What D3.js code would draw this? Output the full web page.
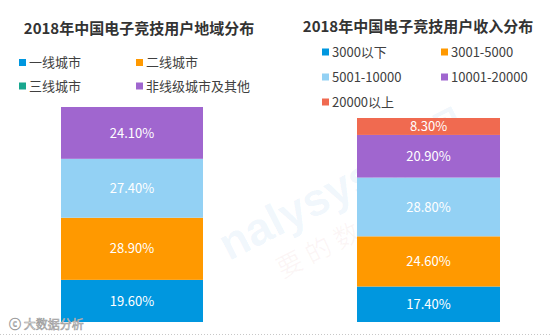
<!DOCTYPE html>
<html><head><meta charset="utf-8">
<script src="https://cdn.jsdelivr.net/npm/d3@7/dist/d3.min.js"></script>
<style>html,body{margin:0;padding:0;background:#fff;}svg{display:block;font-family:"Noto Sans CJK SC","Microsoft YaHei",sans-serif;}</style>
</head><body>
<svg id="c" width="551" height="336"></svg>
<script>
const regionTitle = "2018年中国电子竞技用户地域分布";
const regionCats = ["一线城市","二线城市","三线城市","非线级城市及其他"];
const regionVals = [19.6, 28.9, 0, 27.4, 24.1];
const regionBarKeys = ["一线城市","二线城市","light","非线级城市及其他"];
const regionBarVals = [19.6, 28.9, 27.4, 24.1];
const regionBarColors = ["#0097DF","#FF9900","#93D1F4","#A066CF"];
const regionLegendColors = ["#0097DF","#FF9900","#19A78F","#A066CF"];

const incomeTitle = "2018年中国电子竞技用户收入分布";
const incomeCats = ["3000以下","3001-5000","5001-10000","10001-20000","20000以上"];
const incomeVals = [17.4, 24.6, 28.8, 20.9, 8.3];
const incomeColors = ["#0097DF","#FF9900","#93D1F4","#A066CF","#F06A50"];

const svg = d3.select("#c");
const fmt = v => d3.format(".2f")(v) + "%";

// watermark
const wm = svg.append("g").attr("transform","translate(300,225) rotate(-27)");
wm.append("text").attr("x",-80).attr("y",0).attr("font-size",46).attr("font-weight","bold")
  .attr("fill","#2a8ad8").attr("fill-opacity",0.07).attr("font-family","Arial,sans-serif").text("nalysys 易观");
wm.append("text").attr("x",-40).attr("y",40).attr("font-size",26)
  .attr("fill","#c06060").attr("fill-opacity",0.06).attr("letter-spacing",6).text("要的数据分析");

function drawStack(vals, colors, x0, x1, yTop, yBot) {
  const y = d3.scaleLinear().domain([0, d3.sum(vals)]).range([yBot, yTop]);
  let acc = 0;
  const segs = vals.map((v,i) => { const s = {v, lo: acc, hi: acc + v, c: colors[i]}; acc += v; return s; });
  const g = svg.append("g");
  g.selectAll("rect").data(segs).join("rect")
    .attr("x", x0).attr("width", x1 - x0)
    .attr("y", d => y(d.hi)).attr("height", d => y(d.lo) - y(d.hi))
    .attr("fill", d => d.c);
  g.selectAll("text").data(segs).join("text")
    .attr("x", (x0 + x1) / 2).attr("y", d => (y(d.lo) + y(d.hi)) / 2)
    .attr("dy", "0.36em").attr("text-anchor", "middle")
    .attr("fill", "#fff").attr("font-size", 13)
    .text(d => fmt(d.v));
}

function legend(items, colors, positions) {
  const g = svg.append("g");
  items.forEach((t,i) => {
    const [x, yc] = positions[i];
    g.append("rect").attr("x", x).attr("y", yc - 3.5).attr("width", 7).attr("height", 7).attr("fill", colors[i]);
    g.append("text").attr("x", x + 10).attr("y", yc).attr("dy","0.36em")
      .attr("font-size", 13).attr("fill", "#404040").text(t);
  });
}

// titles
svg.append("text").attr("x", 139).attr("y", 29).attr("dy","0.36em").attr("text-anchor","middle")
  .attr("font-size", 15).attr("font-weight","bold").attr("fill","#333").text(regionTitle);
svg.append("text").attr("x", 418).attr("y", 27).attr("dy","0.36em").attr("text-anchor","middle")
  .attr("font-size", 15).attr("font-weight","bold").attr("fill","#333").text(incomeTitle);

legend(regionCats, regionLegendColors, [[19,62.5],[136,62.5],[19,86],[136,86]]);
legend(incomeCats, incomeColors, [[322,52],[441,52],[322,77],[441,77],[322,102]]);

drawStack(regionBarVals, regionBarColors, 61, 203, 107, 322);
drawStack(incomeVals, incomeColors, 357, 500, 118, 322);

// bottom watermark text and dotted rule
svg.append("text").attr("x", 9).attr("y", 325).attr("dy","0.36em").attr("font-size", 12)
  .attr("fill", "#fff").attr("stroke","#999").attr("stroke-width",0.6).text("ⓒ 大数据分析");
svg.append("line").attr("x1",0).attr("x2",551).attr("y1",334.5).attr("y2",334.5)
  .attr("stroke","#c8c8c8").attr("stroke-dasharray","1,2");
</script>
</body></html>
